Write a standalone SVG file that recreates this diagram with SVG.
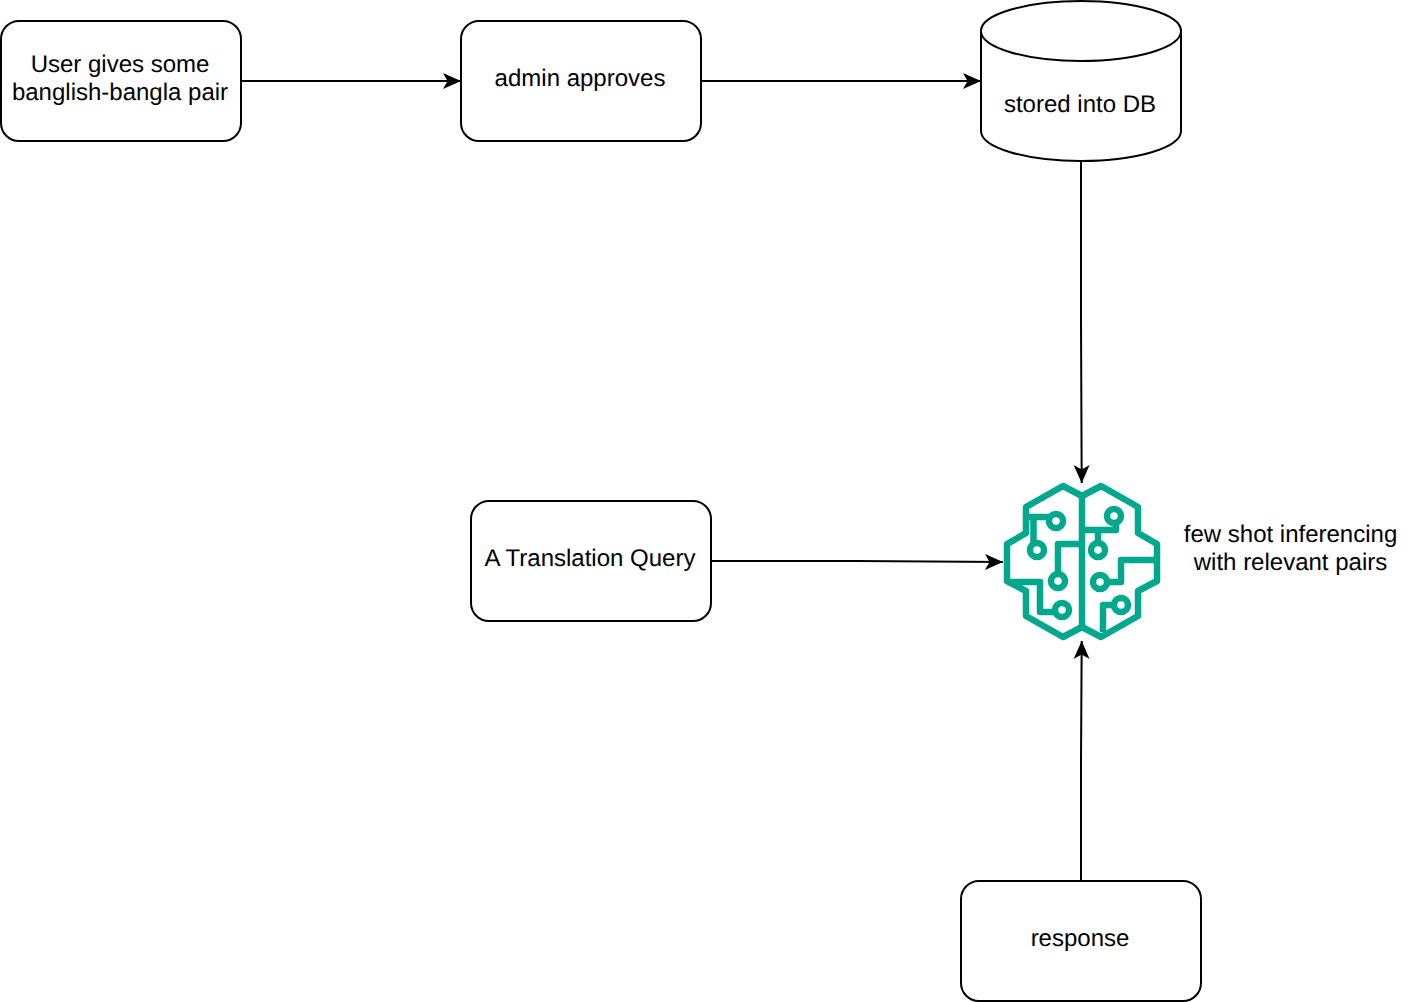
<svg xmlns="http://www.w3.org/2000/svg" width="1422" height="1002" viewBox="0 0 1422 1002">
<style>
.box{fill:#fff;stroke:#000;stroke-width:2}
.edge{fill:none;stroke:#000;stroke-width:2}
text{font-family:"Liberation Sans",Arial,sans-serif;font-size:24px;fill:#000;text-anchor:middle;text-rendering:geometricPrecision}
.brain{fill:none;stroke:#01A88D;stroke-width:6.5;stroke-linejoin:round}
</style>
<defs>
<marker id="arrow" markerUnits="userSpaceOnUse" markerWidth="24" markerHeight="20" refX="20" refY="10" orient="auto" viewBox="0 0 24 20" overflow="visible">
<path d="M20 10 L2 2 L6.5 10 L2 18 Z" fill="#000"/>
</marker>
</defs>
<rect width="1422" height="1002" fill="#fff"/>
<g id="connectors">
<path class="edge" marker-end="url(#arrow)" d="M241 81H461"/>
<path class="edge" marker-end="url(#arrow)" d="M701 81H981"/>
<path class="edge" marker-end="url(#arrow)" d="M1081 161V321L1081.7 483"/>
<path class="edge" marker-end="url(#arrow)" d="M711 561H857L1003 562"/>
<path class="edge" marker-end="url(#arrow)" d="M1081 881V761L1081.7 641"/>
</g>
<g id="user-input"><rect class="box" x="1" y="21" width="240" height="120" rx="18"/><text x="120" y="72">User gives some</text><text x="120" y="100">banglish-bangla pair</text></g>
<g id="admin"><rect class="box" x="461" y="21" width="240" height="120" rx="18"/><text x="580" y="86">admin approves</text></g>
<g id="db"><path class="box" d="M981 31C981 14.4 1025.8 1 1081 1S1181 14.4 1181 31V131C1181 147.6 1136.2 161 1081 161S981 147.6 981 131Z"/><path class="edge" d="M981 31C981 47.6 1025.8 61 1081 61S1181 47.6 1181 31"/><text x="1080" y="112">stored into DB</text></g>
<g id="query"><rect class="box" x="471" y="501" width="240" height="120" rx="18"/><text x="590" y="566">A Translation Query</text></g>
<g id="response"><rect class="box" x="961" y="881" width="240" height="120" rx="18"/><text x="1080" y="946">response</text></g>
<g id="brain">
<g class="brain">
<path d="M1082 496L1063 486L1026 507V533L1007 544V581L1026 591V616L1063 637L1082 627L1101 637L1138 616V591L1157 581V544L1138 533V507L1101 486Z"/>
<path d="M1082 496V627"/>
<path d="M1026 517H1049M1033.5 517V543"/>
<circle cx="1056" cy="521" r="7"/><circle cx="1037" cy="550" r="7"/>
<path d="M1058 574V544H1082"/><circle cx="1058" cy="581" r="7"/>
<path d="M1007 582H1040V612H1054"/><circle cx="1062" cy="610" r="7"/>
<path d="M1082 530H1116V522"/><circle cx="1114" cy="516" r="7"/>
<path d="M1098 530V543"/><circle cx="1098" cy="550" r="7"/>
<path d="M1107 582H1121V560H1157"/><circle cx="1100" cy="582" r="7"/>
<path d="M1114 605H1103V632"/><circle cx="1121" cy="605" r="7"/>
</g>
<text x="1290.5" y="542">few shot inferencing</text><text x="1290.5" y="570">with relevant pairs</text>
</g>
</svg>
